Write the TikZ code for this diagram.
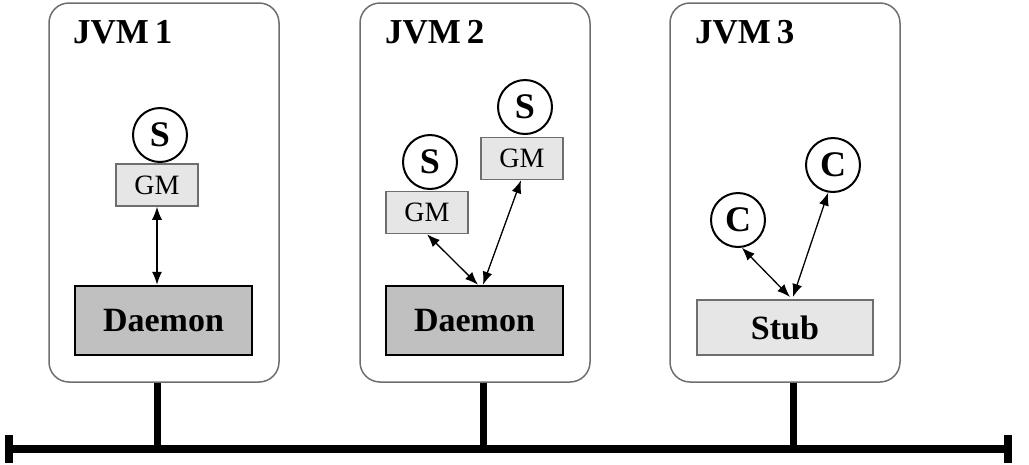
\documentclass[tikz,border=0pt]{standalone}
\usepackage{fontspec}
\setmainfont{Liberation Serif}
\usetikzlibrary{arrows.meta,calc}
\definecolor{boxgray}{HTML}{6E6E6E}
\definecolor{lightfill}{HTML}{E6E6E6}
\definecolor{darkfill}{HTML}{C0C0C0}
\begin{document}
\begin{tikzpicture}[x=1pt,y=-1pt,
  jvm/.style={draw=boxgray,line width=1.5pt,rounded corners=20pt,minimum width=230pt,minimum height=379pt,inner sep=0pt},
  title/.style={anchor=base west,inner sep=0pt,font=\fontsize{35}{40}\selectfont\bfseries},
  gm/.style={draw=boxgray,fill=lightfill,line width=1.5pt,minimum width=82pt,minimum height=42pt,inner sep=0pt,font=\fontsize{28}{30}\selectfont},
  daemon/.style={draw=black,fill=darkfill,line width=2.5pt,minimum width=177pt,minimum height=69pt,inner sep=0pt,font=\fontsize{34}{36}\selectfont\bfseries},
  stubbox/.style={draw=boxgray,fill=lightfill,line width=2pt,minimum width=176pt,minimum height=55pt,inner sep=0pt,font=\fontsize{34}{36}\selectfont\bfseries},
  obj/.style={circle,draw=black,fill=white,line width=2pt,minimum size=54pt,inner sep=0pt,font=\fontsize{36}{38}\selectfont\bfseries},
  arr/.style={line width=1.3pt,{Latex[length=13pt,width=10pt]}-{Latex[length=13pt,width=10pt]}},
  busline/.style={line width=8pt},
  tap/.style={line width=7pt}
]
\useasboundingbox (0,0) rectangle (1029,464);
% JVM boxes
\node[jvm] (j1) at (164,192.5) {};
\node[jvm] (j2) at (475,192.5) {};
\node[jvm] (j3) at (785,192.5) {};
\node[title] (t1) at (73,43) {JVM\,1};
\node[title] (t2) at (385,43) {JVM\,2};
\node[title] (t3) at (695,43) {JVM\,3};
% JVM1
\node[gm] (g1) at (157,185) {GM};
\node[obj] (s1) at (160,135) {S};
\node[daemon] (d1) at (163.5,320.5) {Daemon};
\draw[arr] (g1.south) -- (g1.south |- d1.north);
% JVM2
\node[gm] (g2) at (427,212.5) {GM};
\node[obj] (s2) at (430,162) {S};
\node[gm] (g3) at (522,158.5) {GM};
\node[obj] (s3) at (525,107) {S};
\node[daemon] (d2) at (474.5,320.5) {Daemon};
\draw[arr] (g2.south) -- ([xshift=3.5pt]d2.north);
\draw[arr] ([xshift=-1pt]g3.south) -- ([xshift=8.5pt]d2.north);
% JVM3
\node[obj] (c1) at (738,220) {C};
\node[obj] (c2) at (833,165) {C};
\node[stubbox] (st) at (785,327.5) {Stub};
\draw[arr] (c1.-82) -- ([xshift=5pt,yshift=2pt]st.north);
\draw[arr] (c2.-100) -- ([xshift=8pt,yshift=2pt]st.north);
% bus
\coordinate (busL) at (9,449);
\coordinate (busR) at (1008,449);
\draw[busline] (busL) -- (busR);
\draw[busline] ([yshift=14pt]busL) -- ([yshift=-14pt]busL);
\draw[busline] ([yshift=14pt]busR) -- ([yshift=-14pt]busR);
\draw[tap] ([xshift=-7pt]j1.south) -- ([xshift=-7pt]j1.south |- busL);
\draw[tap] ([xshift=8pt]j2.south) -- ([xshift=8pt]j2.south |- busL);
\draw[tap] ([xshift=8pt]j3.south) -- ([xshift=8pt]j3.south |- busL);
\end{tikzpicture}
\end{document}
